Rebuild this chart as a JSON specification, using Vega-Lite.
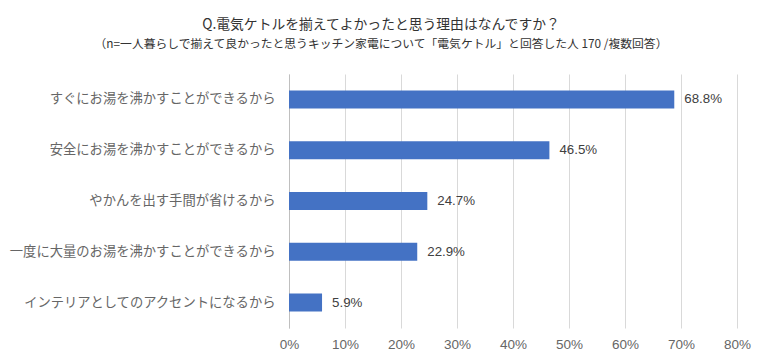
{
  "$schema": "https://vega.github.io/schema/vega-lite/v6.json",
  "width": 448,
  "height": 254,
  "autosize": {"type": "none"},
  "padding": {"left": 289, "top": 74, "right": 27, "bottom": 28},
  "background": "white",
  "title": {
    "text": "Q.電気ケトルを揃えてよかったと思う理由はなんですか？",
    "subtitle": "（n=一人暮らしで揃えて良かったと思うキッチン家電について「電気ケトル」と回答した人 170 /複数回答）",
    "anchor": "middle",
    "dx": -132,
    "font": "Noto Sans CJK JP",
    "fontSize": 13.8,
    "fontWeight": "normal",
    "color": "#333333",
    "subtitleFont": "Noto Sans CJK JP",
    "subtitleFontSize": 11.8,
    "subtitleColor": "#333333",
    "subtitlePadding": 7,
    "offset": 23
  },
  "data": {
    "values": [
      {"reason": "すぐにお湯を沸かすことができるから", "pct": 68.8},
      {"reason": "安全にお湯を沸かすことができるから", "pct": 46.5},
      {"reason": "やかんを出す手間が省けるから", "pct": 24.7},
      {"reason": "一度に大量のお湯を沸かすことができるから", "pct": 22.9},
      {"reason": "インテリアとしてのアクセントになるから", "pct": 5.9}
    ]
  },
  "encoding": {
    "y": {
      "field": "reason",
      "type": "nominal",
      "sort": null,
      "title": null,
      "axis": {
        "labelFont": "Noto Sans CJK JP",
        "labelFontSize": 13.3,
        "labelColor": "#666666",
        "labelPadding": 14,
        "ticks": false,
        "domainColor": "#bfbfbf",
        "labelLimit": 300
      }
    },
    "x": {
      "field": "pct",
      "type": "quantitative",
      "scale": {"domain": [0, 80]},
      "title": null,
      "axis": {
        "values": [0, 10, 20, 30, 40, 50, 60, 70, 80],
        "labelExpr": "datum.value + '%'",
        "labelFlush": false,
        "labelFont": "Liberation Sans",
        "labelFontSize": 13.5,
        "labelColor": "#666666",
        "domain": false,
        "ticks": false,
        "labelPadding": 9,
        "gridColor": "#d9d9d9",
        "gridWidth": 1
      }
    }
  },
  "layer": [
    {
      "mark": {"type": "bar", "color": "#4472C4", "size": 18}
    },
    {
      "mark": {"type": "text", "align": "left", "dx": 10, "font": "Liberation Sans", "fontSize": 13.3, "color": "#404040",
        "text": {"expr": "format(datum.pct, '.1f') + '%'"}}
    }
  ],
  "config": {"view": {"stroke": null}}
}
